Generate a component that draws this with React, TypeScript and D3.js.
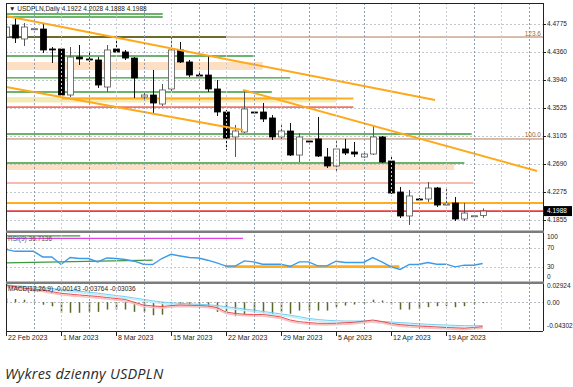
import * as d3 from 'd3';
import React, { useEffect, useRef } from 'react';

// one label every 6 bars (the broker prints a short Sunday bar each week)
const weekLabels = ['22 Feb 2023', '1 Mar 2023', '8 Mar 2023', '15 Mar 2023', '22 Mar 2023', '29 Mar 2023', '5 Apr 2023', '12 Apr 2023', '19 Apr 2023'];

const opens = [4.4581, 4.4760, 4.4552, 4.4700, 4.4700, 4.4403, 4.4403, 4.3717, 4.4283, 4.4254,
  4.4239, 4.3836, 4.4403, 4.4358, 4.4268, 4.3687, 4.3717, 4.3583, 4.3807, 4.4388,
  4.4209, 4.4015, 4.4015, 4.3807, 4.3464, 4.3092, 4.3166, 4.3464, 4.3464, 4.3375,
  4.3092, 4.3181, 4.2823, 4.3032, 4.3062, 4.2794, 4.2660, 4.2913, 4.2868, 4.2794,
  4.2838, 4.3092, 4.2734, 4.2272, 4.1915, 4.2168, 4.2168, 4.2332, 4.2078, 4.2108,
  4.1870, 4.1915, 4.1922];
const highs = [4.4835, 4.4879, 4.4790, 4.4715, 4.4775, 4.4432, 4.4432, 4.4432, 4.4462, 4.4343,
  4.4283, 4.4462, 4.4537, 4.4388, 4.4283, 4.3747, 4.4090, 4.3881, 4.4566, 4.4507,
  4.4239, 4.4045, 4.4313, 4.3941, 4.3494, 4.3270, 4.3792, 4.3479, 4.3598, 4.3419,
  4.3300, 4.3300, 4.3151, 4.3055, 4.3390, 4.2928, 4.3047, 4.3062, 4.3017, 4.2853,
  4.3270, 4.3106, 4.2794, 4.2347, 4.2302, 4.2183, 4.2421, 4.2347, 4.2347, 4.2198,
  4.2108, 4.1930, 4.2028];
const lows = [4.4537, 4.4492, 4.4447, 4.4686, 4.4343, 4.4194, 4.3687, 4.3687, 4.4164, 4.4209,
  4.3822, 4.3762, 4.4343, 4.4239, 4.3673, 4.3643, 4.3449, 4.3553, 4.3762, 4.4194,
  4.3985, 4.3985, 4.3762, 4.3404, 4.2898, 4.2794, 4.3151, 4.3449, 4.3315, 4.3047,
  4.3047, 4.2808, 4.2719, 4.3017, 4.2794, 4.2630, 4.2570, 4.2823, 4.2794, 4.2779,
  4.2823, 4.2704, 4.2242, 4.1885, 4.1781, 4.2153, 4.2123, 4.2049, 4.2071, 4.1840,
  4.1840, 4.1900, 4.1888];
const closes = [4.4730, 4.4566, 4.4730, 4.4705, 4.4388, 4.4395, 4.3717, 4.4283, 4.4254, 4.4250,
  4.3866, 4.4388, 4.4358, 4.4268, 4.3971, 4.3717, 4.3598, 4.3792, 4.4388, 4.4209,
  4.4015, 4.4010, 4.3807, 4.3464, 4.3077, 4.3181, 4.3509, 4.3460, 4.3360, 4.3092,
  4.3181, 4.2823, 4.3092, 4.3030, 4.2808, 4.2660, 4.2913, 4.2853, 4.2838, 4.2838,
  4.3092, 4.2719, 4.2257, 4.1915, 4.2213, 4.2165, 4.2332, 4.2078, 4.2093, 4.1870,
  4.1959, 4.1918, 4.1988];

const rsiValues = [66.7, 62.5, 62.5, 62.5, 50.6, 50.6, 34.8, 49.4, 47.3, 47.3,
  40.2, 48.5, 47.3, 45.2, 41.7, 35.4, 34.8, 47.3, 56.3, 52.7,
  49.4, 48.5, 43.8, 38.1, 31.3, 31.3, 42.3, 40.2, 35.4, 35.4,
  35.4, 30.5, 40.2, 40.2, 31.9, 31.9, 41.7, 39.0, 39.0, 39.0,
  49.4, 40.2, 29.8, 24.4, 34.8, 34.8, 39.0, 35.4, 35.4, 29.8,
  33.3, 33.3, 36.7136];

const macdHist = [0.006, 0.005, 0.004, 0.001, -0.004, -0.0065, -0.017, -0.017, -0.017, -0.0155,
  -0.0155, -0.0118, -0.0118, -0.0118, -0.0155, -0.0155, -0.0209, -0.02, -0.0065, -0.005,
  -0.004, -0.004, -0.0065, -0.0155, -0.0188, -0.0225, -0.0188, -0.0155, -0.017, -0.0188,
  -0.016, -0.0185, -0.0134, -0.0134, -0.0134, -0.0134, -0.008, -0.0053, -0.0037, -0.0027,
  0.004, 0.0027, -0.0037, -0.0118, -0.0118, -0.0102, -0.008, -0.0064, -0.0064, -0.008,
  -0.0064, -0.0037, -0.00143];
const macdMain = [0.0276, 0.025, 0.0223, 0.021, 0.0196, 0.017, 0.0143, 0.013, 0.0116, 0.0104,
  0.0092, 0.0075, 0.006, 0.0044, 0.0, -0.0045, -0.006, -0.0069, -0.0055, -0.0045,
  -0.0049, -0.0053, -0.0061, -0.0085, -0.0157, -0.0181, -0.0194, -0.0196, -0.0197, -0.0215,
  -0.0237, -0.0286, -0.0313, -0.0326, -0.0339, -0.034, -0.0339, -0.033, -0.0322, -0.0305,
  -0.0286, -0.031, -0.0342, -0.036, -0.0374, -0.0382, -0.039, -0.0398, -0.0406, -0.0412,
  -0.0419, -0.0406, -0.0393];
const macdSignal = [0.0276, 0.0265, 0.0255, 0.0244, 0.0233, 0.022, 0.0206, 0.019, 0.0175, 0.0161,
  0.0146, 0.0127, 0.0108, 0.009, 0.0068, 0.0045, 0.0023, 0.0003, -0.001, -0.0018,
  -0.0026, -0.0034, -0.004, -0.0053, -0.0071, -0.009, -0.0109, -0.0128, -0.0148, -0.0168,
  -0.0189, -0.0208, -0.0233, -0.026, -0.0278, -0.029, -0.0298, -0.0302, -0.0302, -0.0302,
  -0.0302, -0.031, -0.0318, -0.0328, -0.0336, -0.0345, -0.0355, -0.0361, -0.0366, -0.0372,
  -0.0377, -0.0377, -0.03764];

const priceTicks = [4.4775, 4.4360, 4.3940, 4.3525, 4.3105, 4.2690, 4.2275, 4.1855];
const rsiTicks = [100, 70, 30, 0];
const rsiLevels = [70, 30];
const macdTicks = [0.02924, 0.0, -0.04302];

// horizontal objects: [kind, price, fromBar, toBar]
const priceLevels: [string, number, number, number][] = [
  ['green', 4.4924, 0, 17.1],
  ['green', 4.4879, 0, 17.1],
  ['fib', 4.4581, 0, 60],
  ['olive', 4.4581, 0, 24],
  ['green', 4.4298, 0, 27],
  ['green', 4.3971, 0, 31],
  ['green', 4.3762, 0, 29],
  ['orange', 4.3665, 6.1, 37.9],
  ['rose', 4.3538, 0, 37.9],
  ['green', 4.3136, 0, 50.8],
  ['fib', 4.3062, 0, 60],
  ['green', 4.2704, 0, 50],
  ['salmon', 4.2406, 0, 51],
  ['orange', 4.2108, 0, 60],
  ['red', 4.1988, 0, 60],
];
// shaded zones: [kind, upper price, lower price, fromBar, toBar]
const priceZones: [string, number, number, number, number][] = [
  ['peach', 4.4209, 4.4090, 0, 28],
  ['sand', 4.3687, 4.3606, 0, 36],
  ['peach', 4.2689, 4.2600, 0, 48.9],
];
const fibLabels: [string, number][] = [['123.6', 4.4581], ['100.0', 4.3062]];
// trend lines: [bar1, price1, bar2, price2]
const trendLines = [
  [0, 4.4894, 46.8, 4.3643],
  [25.85, 4.3792, 57.93, 4.2585],
  [0, 4.3836, 25.85, 4.3196],
];
// objects on RSI window: [kind, value1, value2, fromBar, toBar]
const rsiObjects: [string, number, number, number, number][] = [
  ['magenta', 89.6, 89.6, 0, 25.85],
  ['green', 94.8, 94.8, 0, 8.1],
  ['green', 38.1, 43.8, 0, 16],
  ['orangeThick', 30.2, 30.2, 23.9, 42.9],
];

const styles: Record<string, { stroke: string; width: number }> = {
  green: { stroke: '#3b9a3b', width: 1.3 },
  olive: { stroke: '#6d6a2a', width: 2 },
  fib: { stroke: '#b07a52', width: 1 },
  orange: { stroke: '#ffad1f', width: 2.2 },
  orangeThick: { stroke: '#ffad1f', width: 2.6 },
  rose: { stroke: '#f27565', width: 1.8 },
  salmon: { stroke: '#f2775a', width: 1.1 },
  red: { stroke: '#ec3b3f', width: 1.7 },
  magenta: { stroke: '#e23fe2', width: 1.3 },
};
const zoneFill: Record<string, string> = { peach: '#fddfc3', sand: '#f3ebb6' };

const App = () => {
  const svgRef = useRef<SVGSVGElement>(null);

  useEffect(() => {
    const width = 573;
    const height = 387;
    const left = 6;
    const right = 543;
    const main = { top: 3, bottom: 229 };
    const rsiP = { top: 233.5, bottom: 281 };
    const macdP = { top: 284, bottom: 329 };
    const axisY = 331;
    const font = '"Liberation Sans", Arial, sans-serif';

    const svg = d3.select(svgRef.current);
    svg.selectAll('*').remove();
    svg.attr('width', width).attr('height', height);
    svg.append('rect').attr('width', width).attr('height', height).attr('fill', '#fff');

    // scales
    const x = d3.scaleLinear().domain([0, 48]).range([6, 446]);
    const y = d3.scaleLinear().domain([4.1855, 4.4775]).range([220, 24]);
    const yR = d3.scaleLinear().domain([0, 100]).range([rsiP.bottom, rsiP.top]);
    const yM = d3.scaleLinear().domain([-0.04302, 0.02924]).range([macdP.bottom, macdP.top]);
    const nBars = opens.length;

    const defs = svg.append('defs');
    const clip = (id: string, top: number, bottom: number) =>
      defs.append('clipPath').attr('id', id).append('rect')
        .attr('x', left).attr('y', top).attr('width', right - left).attr('height', bottom - top);
    clip('clipMain', main.top, main.bottom);
    clip('clipRsi', rsiP.top - 2, rsiP.bottom);
    clip('clipMacd', macdP.top, axisY);

    const gMain = svg.append('g').attr('clip-path', 'url(#clipMain)');
    const gRsi = svg.append('g').attr('clip-path', 'url(#clipRsi)');
    const gMacd = svg.append('g').attr('clip-path', 'url(#clipMacd)');

    // zones
    gMain.selectAll('rect.zone').data(priceZones).join('rect')
      .attr('x', d => x(d[3])).attr('width', d => x(d[4]) - x(d[3]))
      .attr('y', d => y(d[1])).attr('height', d => y(d[2]) - y(d[1]))
      .attr('fill', d => zoneFill[d[0]]);

    // vertical grid, every 3 bars, through all panels
    const vGrid = d3.range(3, 60, 3);
    svg.append('g').selectAll('line').data(vGrid.filter(i => x(i) < right)).join('line')
      .attr('x1', i => Math.round(x(i)) + 0.5).attr('x2', i => Math.round(x(i)) + 0.5)
      .attr('y1', main.top).attr('y2', axisY)
      .attr('stroke', i => (i % 6 === 3 ? '#8e9db0' : '#c9ccd2'))
      .attr('stroke-width', 1).attr('stroke-dasharray', '2,2');

    // horizontal grid
    gMain.selectAll('line.hg').data(priceTicks).join('line')
      .attr('x1', left).attr('x2', right)
      .attr('y1', d => Math.round(y(d)) + 0.5).attr('y2', d => Math.round(y(d)) + 0.5)
      .attr('stroke', '#c3c8d0').attr('stroke-dasharray', '2,2');

    // level lines
    gMain.selectAll('line.lvl').data(priceLevels).join('line')
      .attr('x1', d => x(d[2])).attr('x2', d => x(d[3]))
      .attr('y1', d => y(d[1])).attr('y2', d => y(d[1]))
      .attr('stroke', d => styles[d[0]].stroke)
      .attr('stroke-width', d => styles[d[0]].width);

    // fib labels
    svg.append('g').selectAll('text').data(fibLabels).join('text')
      .attr('x', right - 2).attr('y', d => y(d[1]) - 1.5)
      .attr('text-anchor', 'end')
      .attr('font-family', font).attr('font-size', 6.5)
      .attr('fill', '#9a6a48')
      .text(d => d[0]);

    // candles
    const candles = opens.map((o, i) => ({ i, o, h: highs[i], l: lows[i], c: closes[i] }));
    const cx = (i: number) => Math.round(x(i)) + 0.5;
    gMain.selectAll('line.wick').data(candles).join('line')
      .attr('x1', d => cx(d.i)).attr('x2', d => cx(d.i))
      .attr('y1', d => y(d.h)).attr('y2', d => y(d.l))
      .attr('stroke', d => (d.c >= d.o ? '#555' : '#111')).attr('stroke-width', 1);
    gMain.selectAll('rect.body').data(candles).join('rect')
      .attr('x', d => cx(d.i) - 3).attr('width', 6)
      .attr('y', d => y(Math.max(d.o, d.c)))
      .attr('height', d => Math.max(1, Math.abs(y(d.o) - y(d.c))))
      .attr('fill', d => (d.c >= d.o ? '#fff' : '#000'))
      .attr('stroke', d => (d.c >= d.o ? '#555' : '#000'))
      .attr('stroke-width', 0.8);

    // trend lines
    gMain.selectAll('line.trend').data(trendLines).join('line')
      .attr('x1', d => x(d[0])).attr('y1', d => y(d[1]))
      .attr('x2', d => x(d[2])).attr('y2', d => y(d[3]))
      .attr('stroke', '#ffa81a').attr('stroke-width', 2);

    // ---- RSI window
    gRsi.selectAll('line.lv').data(rsiLevels).join('line')
      .attr('x1', left).attr('x2', right)
      .attr('y1', d => Math.round(yR(d)) + 0.5).attr('y2', d => Math.round(yR(d)) + 0.5)
      .attr('stroke', '#c3c8d0').attr('stroke-dasharray', '2,2');
    gRsi.selectAll('line.obj').data(rsiObjects).join('line')
      .attr('x1', d => x(d[3])).attr('x2', d => x(d[4]))
      .attr('y1', d => yR(d[1])).attr('y2', d => yR(d[2]))
      .attr('stroke', d => styles[d[0]].stroke)
      .attr('stroke-width', d => styles[d[0]].width);
    gRsi.append('path')
      .datum(rsiValues)
      .attr('fill', 'none').attr('stroke', '#3c9be8').attr('stroke-width', 1.4)
      .attr('d', d3.line<number>().x((_, i) => x(i)).y(d => yR(d)));

    // ---- MACD window
    gMacd.append('line')
      .attr('x1', left).attr('x2', right)
      .attr('y1', Math.round(yM(0)) + 0.5).attr('y2', Math.round(yM(0)) + 0.5)
      .attr('stroke', '#b8bcc4').attr('stroke-dasharray', '2,2');
    gMacd.selectAll('rect.hist').data(macdHist).join('rect')
      .attr('x', (_, i) => cx(i) - 0.75).attr('width', 1.5)
      .attr('y', d => Math.min(yM(d), yM(0)))
      .attr('height', d => Math.abs(yM(d) - yM(0)))
      .attr('fill', '#5a6a2a');
    const mLine = d3.line<number>().x((_, i) => x(i)).y(d => yM(d));
    gMacd.append('path').datum(macdSignal).attr('transform', 'translate(0,1.5)')
      .attr('fill', 'none').attr('stroke', '#c4eefb').attr('stroke-width', 1.6).attr('d', mLine);
    gMacd.append('path').datum(macdSignal)
      .attr('fill', 'none').attr('stroke', '#74cdf0').attr('stroke-width', 1).attr('d', mLine);
    gMacd.append('path').datum(macdMain).attr('transform', 'translate(0,1.5)')
      .attr('fill', 'none').attr('stroke', '#f9c0c0').attr('stroke-width', 1.6).attr('d', mLine);
    gMacd.append('path').datum(macdMain)
      .attr('fill', 'none').attr('stroke', '#ee4a4a').attr('stroke-width', 1).attr('d', mLine);

    // ---- frame and separators
    svg.append('line').attr('x1', left + 0.5).attr('x2', left + 0.5).attr('y1', main.top).attr('y2', axisY)
      .attr('stroke', '#222');
    svg.append('line').attr('x1', right + 0.5).attr('x2', right + 0.5).attr('y1', main.top).attr('y2', axisY)
      .attr('stroke', '#222');
    svg.append('line').attr('x1', left).attr('x2', right).attr('y1', main.top + 0.5).attr('y2', main.top + 0.5)
      .attr('stroke', '#222');
    svg.append('line').attr('x1', left).attr('x2', right).attr('y1', axisY + 0.5).attr('y2', axisY + 0.5)
      .attr('stroke', '#222');
    [main.bottom + 1.5, rsiP.bottom + 0.5].forEach(sy => {
      svg.append('rect').attr('x', left).attr('y', sy).attr('width', right - left + 1).attr('height', 2.5)
        .attr('fill', '#7c7c7c');
    });

    // ---- right axis labels
    const axisText = (g: any) => g.attr('font-family', font).attr('font-size', 6.5).attr('fill', '#222');
    svg.append('g').call(axisText).selectAll('text').data(priceTicks).join('text')
      .attr('x', right + 4).attr('y', d => y(d) + 2.3).text(d => d.toFixed(4));
    svg.append('g').selectAll('line').data(priceTicks).join('line')
      .attr('x1', right).attr('x2', right + 3)
      .attr('y1', d => Math.round(y(d)) + 0.5).attr('y2', d => Math.round(y(d)) + 0.5)
      .attr('stroke', '#222');
    const last = closes[nBars - 1];
    svg.append('rect').attr('x', right + 1).attr('y', y(last) - 5).attr('width', 28).attr('height', 10).attr('fill', '#000');
    svg.append('text').call(axisText).attr('fill', '#fff')
      .attr('x', right + 4).attr('y', y(last) + 2.3).text(last.toFixed(4));

    svg.append('g').call(axisText).selectAll('text').data(rsiTicks).join('text')
      .attr('x', right + 4)
      .attr('y', d => Math.min(Math.max(yR(d), rsiP.top + 3.5), rsiP.bottom - 4) + 2.3)
      .text(d => String(d));
    svg.append('g').call(axisText).selectAll('text').data(macdTicks).join('text')
      .attr('x', right + 4)
      .attr('y', d => Math.min(Math.max(yM(d), macdP.top + 2), macdP.bottom - 3.3) + 2.3)
      .text(d => (d === 0 ? '0.00' : String(d)));

    // ---- bottom time axis
    const gTime = svg.append('g').call(axisText);
    weekLabels.forEach((lab, k) => {
      const bx = cx(k * 6);
      gTime.append('line').attr('x1', bx).attr('x2', bx).attr('y1', axisY).attr('y2', axisY + 5).attr('stroke', '#222');
      gTime.append('text').attr('x', bx + 1.5).attr('y', axisY + 8.5).attr('font-size', 7).text(lab);
    });

    // ---- window captions
    svg.append('text').call(axisText).attr('x', 9).attr('y', 11)
      .text('\u25BC USDPLN,Daily 4.1922 4.2028 4.1888 4.1988');
    svg.append('text').call(axisText).attr('fill', '#555').attr('x', 8).attr('y', rsiP.top + 7)
      .text(`RSI(9) ${rsiValues[nBars - 1].toFixed(4)}`);
    svg.append('text').call(axisText).attr('x', 8).attr('y', macdP.top + 7)
      .text(`MACD(12,26,9) ${macdHist[nBars - 1].toFixed(5)} ${macdSignal[nBars - 1].toFixed(5)} -0.03036`);

    // ---- caption under the chart
    svg.append('text')
      .attr('x', 5).attr('y', 379)
      .attr('font-family', '"Open Sans", "Noto Sans", sans-serif')
      .attr('font-style', 'italic')
      .attr('font-size', 14.5)
      .attr('letter-spacing', 0.2)
      .attr('fill', '#2b2b2b')
      .text('Wykres dzienny USDPLN');
  }, []);

  return (
    <div style={{ position: 'absolute', left: 0, top: 0 }}>
      <svg ref={svgRef} style={{ display: 'block' }}></svg>
    </div>
  );
};

export default App;
